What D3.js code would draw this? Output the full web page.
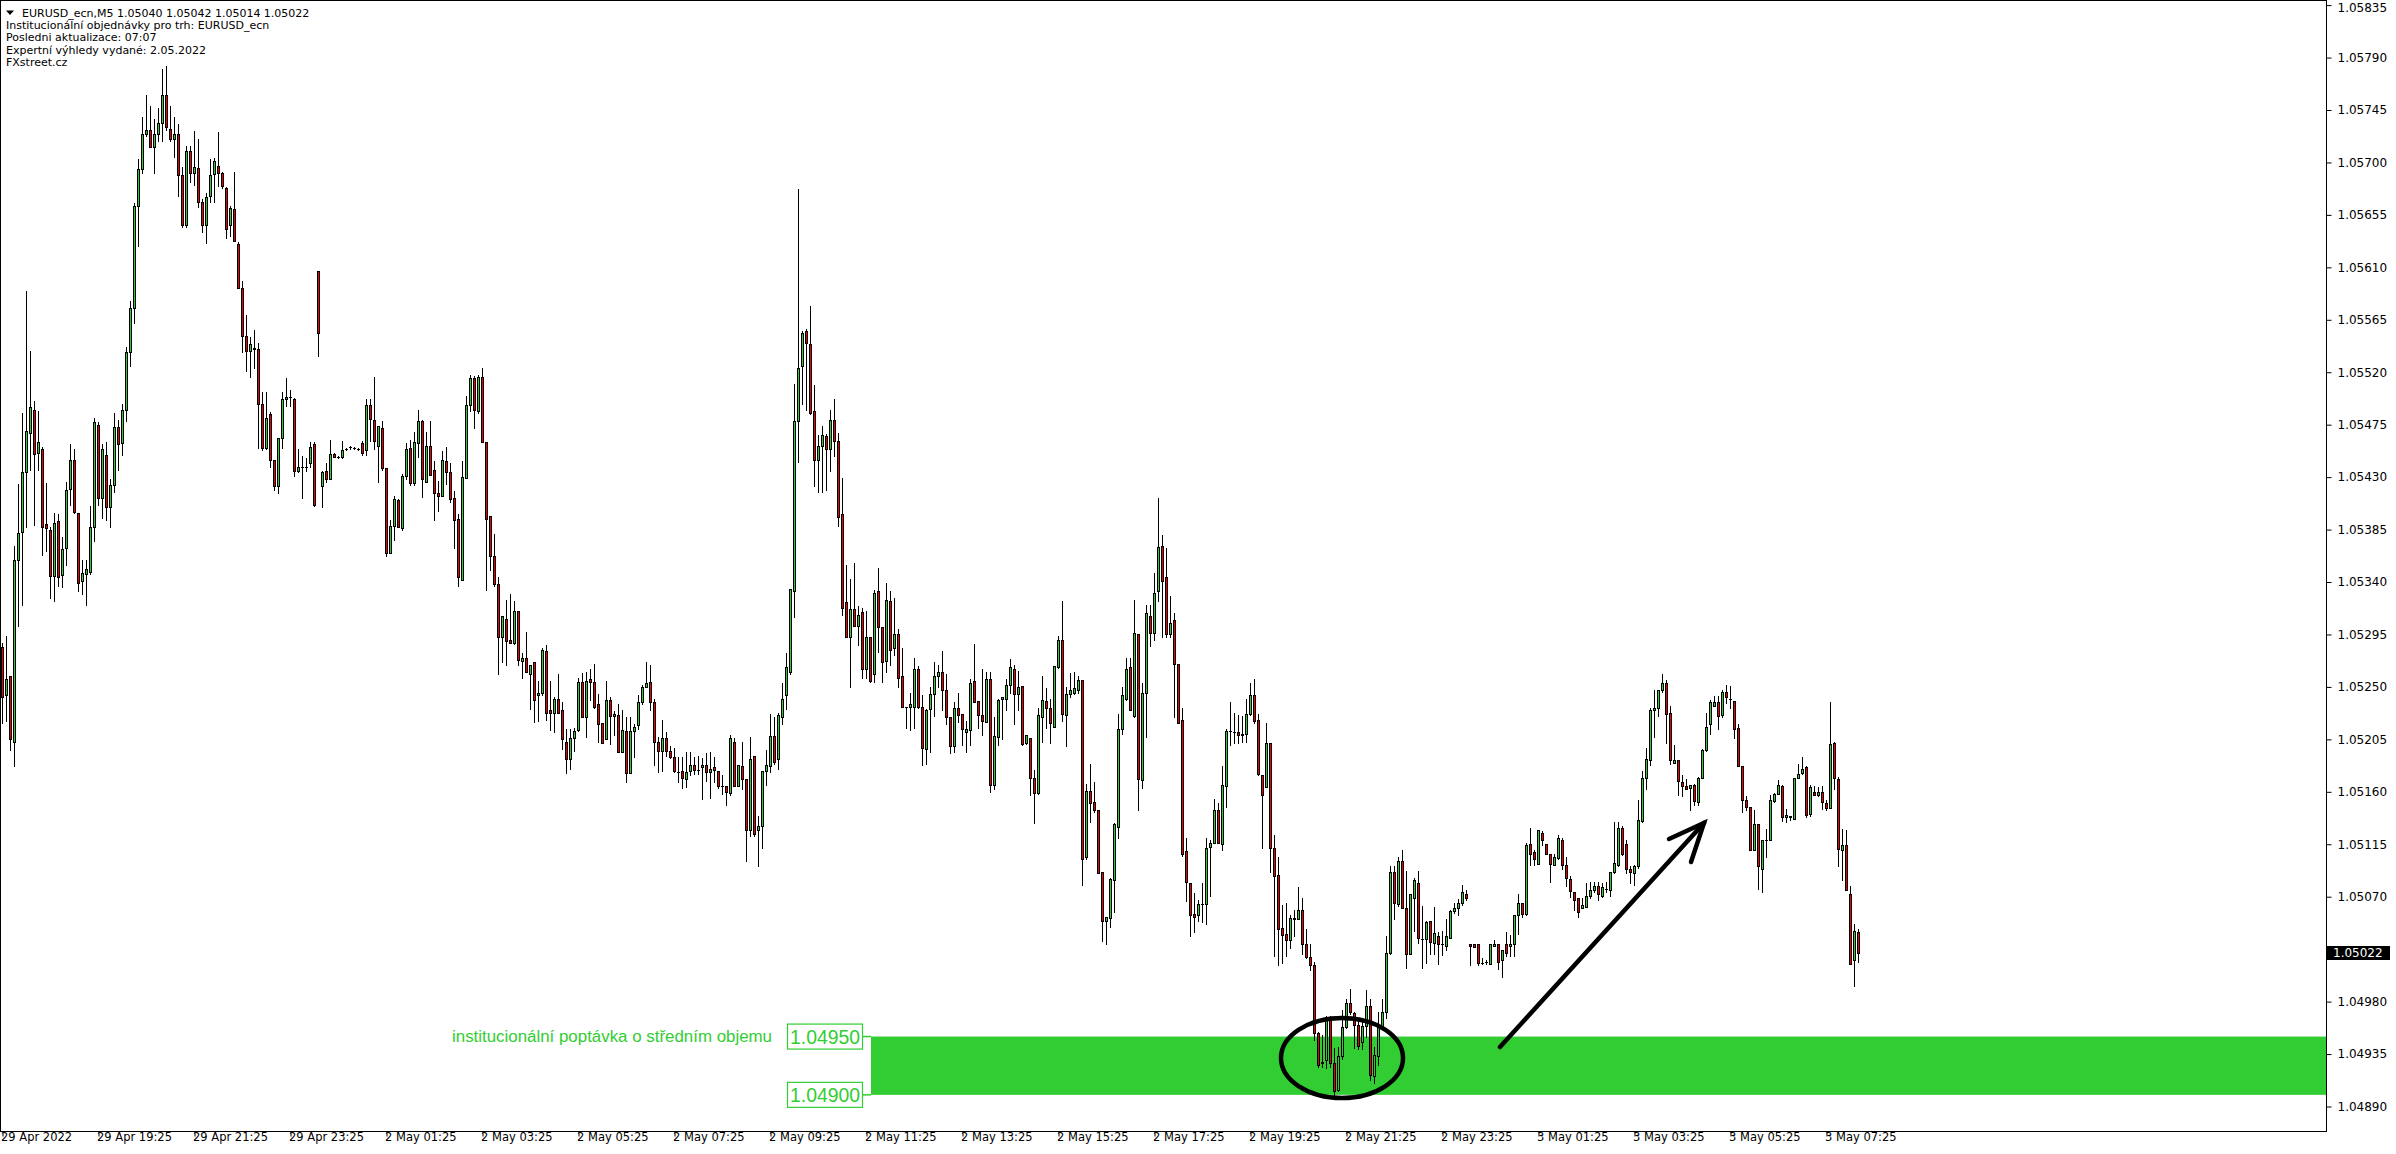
<!DOCTYPE html>
<html><head><meta charset="utf-8">
<script src="https://cdn.jsdelivr.net/npm/d3@7"></script>
<style>
html,body{margin:0;padding:0;background:#fff;}
svg{display:block;}
</style></head>
<body>
<svg id="chart" width="2396" height="1154"></svg>
<script>
// ---------- DATA (EURUSD_ecn M5) ----------
const opens = [
1.05284,1.05243,1.05259,1.05203,1.05359,1.05383,1.05434,1.05468,1.05488,1.05451,
1.05454,1.05390,1.05385,1.05345,1.05392,1.05346,1.05369,1.05420,1.05445,1.05399,
1.05341,1.05347,1.05349,1.05387,1.05475,1.05412,1.05449,1.05404,1.05423,1.05473,
1.05459,1.05488,1.05537,1.05575,1.05663,1.05694,1.05724,1.05728,1.05713,1.05724,
1.05734,1.05758,1.05729,1.05720,1.05724,1.05689,1.05646,1.05710,1.05691,1.05695,
1.05666,1.05646,1.05671,1.05690,1.05697,1.05691,1.05678,1.05646,1.05660,1.05630,
1.05592,1.05551,1.05538,1.05541,1.05540,1.05493,1.05455,1.05484,1.05445,1.05422,
1.05464,1.05497,1.05499,1.05497,1.05435,1.05439,1.05439,1.05442,1.05458,1.05607,
1.05422,1.05435,1.05428,1.05450,1.05447,1.05447,1.05454,1.05456,1.05455,1.05454,
1.05459,1.05453,1.05492,1.05479,1.05457,1.05472,1.05438,1.05365,1.05388,1.05410,
1.05386,1.05431,1.05455,1.05425,1.05459,1.05478,1.05426,1.05457,1.05436,1.05416,
1.05414,1.05444,1.05434,1.05412,1.05394,1.05342,1.05429,1.05492,1.05515,1.05487,
1.05516,1.05460,1.05397,1.05362,1.05338,1.05293,1.05308,1.05290,1.05288,1.05315,
1.05272,1.05275,1.05261,1.05271,1.05243,1.05245,1.05281,1.05230,1.05228,1.05240,
1.05230,1.05203,1.05188,1.05206,1.05213,1.05254,1.05224,1.05257,1.05254,1.05235,
1.05219,1.05205,1.05239,1.05225,1.05226,1.05194,1.05212,1.05176,1.05212,1.05217,
1.05237,1.05250,1.05254,1.05237,1.05203,1.05195,1.05206,1.05195,1.05190,1.05177,
1.05178,1.05171,1.05178,1.05183,1.05179,1.05181,1.05183,1.05177,1.05181,1.05178,
1.05165,1.05165,1.05159,1.05203,1.05165,1.05182,1.05171,1.05127,1.05191,1.05127,
1.05131,1.05178,1.05182,1.05208,1.05188,1.05224,1.05243,1.05263,1.05332,1.05478,
1.05525,1.05555,1.05544,1.05487,1.05445,1.05457,1.05465,1.05454,1.05479,1.05461,
1.05398,1.05323,1.05293,1.05317,1.05302,1.05314,1.05265,1.05293,1.05261,1.05332,
1.05301,1.05272,1.05324,1.05283,1.05295,1.05259,1.05233,1.05233,1.05233,1.05265,
1.05233,1.05197,1.05231,1.05244,1.05259,1.05263,1.05247,1.05224,1.05199,1.05232,
1.05227,1.05211,1.05213,1.05255,1.05238,1.05226,1.05220,1.05257,1.05166,1.05207,
1.05240,1.05240,1.05252,1.05265,1.05244,1.05251,1.05202,1.05206,1.05172,1.05159,
1.05224,1.05238,1.05232,1.05216,1.05267,1.05290,1.05226,1.05244,1.05245,1.05247,
1.05256,1.05104,1.05161,1.05151,1.05144,1.05091,1.05049,1.05052,1.05084,1.05130,
1.05214,1.05240,1.05267,1.05225,1.05295,1.05170,1.05245,1.05311,1.05296,1.05332,
1.05371,1.05344,1.05295,1.05307,1.05270,1.05222,1.05109,1.05082,1.05055,1.05054,
1.05064,1.05064,1.05113,1.05116,1.05144,1.05115,1.05165,1.05212,1.05211,1.05211,
1.05209,1.05210,1.05227,1.05243,1.05222,1.05174,1.05164,1.05202,1.05112,1.05089,
1.05043,1.05038,1.05033,1.05052,1.05051,1.05059,1.05029,1.05018,1.05011,1.04953,
1.04927,1.04930,1.04967,1.04927,1.04904,1.04933,1.04958,1.04979,1.04970,1.04960,
1.04945,1.04959,1.04976,1.04916,1.04933,1.04959,1.04971,1.05022,1.05091,1.05064,
1.05101,1.05060,1.05021,1.05069,1.05082,1.05034,1.05034,1.05049,1.05030,1.05036,
1.05029,1.05028,1.05035,1.05058,1.05060,1.05065,1.05072,1.05029,1.05029,1.05029,
1.05013,1.05014,1.05012,1.05028,1.05029,1.05016,1.05029,1.05028,1.05029,1.05054,
1.05065,1.05055,1.05115,1.05108,1.05098,1.05125,1.05115,1.05107,1.05097,1.05103,
1.05119,1.05097,1.05085,1.05074,1.05069,1.05060,1.05061,1.05071,1.05076,1.05079,
1.05071,1.05077,1.05076,1.05091,1.05097,1.05129,1.05115,1.05094,1.05090,1.05096,
1.05135,1.05172,1.05187,1.05230,1.05232,1.05247,1.05253,1.05228,1.05185,1.05187,
1.05168,1.05165,1.05163,1.05166,1.05151,1.05172,1.05196,1.05218,1.05234,1.05237,
1.05226,1.05246,1.05240,1.05238,1.05215,1.05182,1.05153,1.05147,1.05110,1.05132,
1.05094,1.05119,1.05119,1.05152,1.05158,1.05165,1.05138,1.05138,1.05137,1.05172,
1.05176,1.05181,1.05141,1.05160,1.05157,1.05160,1.05150,1.05146,1.05202,1.05171,
1.05110,1.05114,1.05072,1.05016,1.05040];
const highs = [
1.05288,1.05294,1.05259,1.05371,1.05424,1.05485,1.05590,1.05538,1.05495,1.05487,
1.05456,1.05425,1.05387,1.05399,1.05398,1.05379,1.05426,1.05458,1.05454,1.05399,
1.05359,1.05359,1.05405,1.05481,1.05477,1.05458,1.05460,1.05428,1.05485,1.05479,
1.05493,1.05542,1.05581,1.05665,1.05703,1.05739,1.05758,1.05748,1.05737,1.05747,
1.05780,1.05783,1.05748,1.05739,1.05733,1.05696,1.05714,1.05714,1.05727,1.05720,
1.05669,1.05674,1.05703,1.05704,1.05726,1.05692,1.05679,1.05663,1.05692,1.05632,
1.05598,1.05569,1.05550,1.05556,1.05545,1.05503,1.05503,1.05486,1.05445,1.05464,
1.05503,1.05515,1.05505,1.05498,1.05454,1.05448,1.05446,1.05460,1.05460,1.05607,
1.05435,1.05442,1.05462,1.05451,1.05448,1.05461,1.05455,1.05457,1.05456,1.05455,
1.05461,1.05497,1.05497,1.05516,1.05474,1.05478,1.05438,1.05393,1.05414,1.05411,
1.05433,1.05459,1.05462,1.05469,1.05488,1.05479,1.05469,1.05478,1.05444,1.05427,
1.05452,1.05456,1.05442,1.05418,1.05398,1.05444,1.05500,1.05518,1.05517,1.05518,
1.05524,1.05460,1.05397,1.05381,1.05344,1.05311,1.05325,1.05330,1.05324,1.05315,
1.05279,1.05297,1.05269,1.05271,1.05255,1.05283,1.05286,1.05255,1.05241,1.05261,
1.05237,1.05214,1.05214,1.05215,1.05258,1.05262,1.05263,1.05265,1.05270,1.05244,
1.05219,1.05255,1.05241,1.05229,1.05235,1.05230,1.05224,1.05224,1.05218,1.05243,
1.05252,1.05271,1.05269,1.05240,1.05207,1.05222,1.05211,1.05199,1.05198,1.05190,
1.05190,1.05194,1.05194,1.05190,1.05191,1.05189,1.05193,1.05194,1.05190,1.05178,
1.05174,1.05165,1.05209,1.05206,1.05183,1.05203,1.05171,1.05207,1.05191,1.05139,
1.05178,1.05196,1.05227,1.05224,1.05228,1.05253,1.05279,1.05334,1.05510,1.05677,
1.05555,1.05557,1.05577,1.05509,1.05466,1.05474,1.05467,1.05488,1.05497,1.05468,
1.05429,1.05355,1.05343,1.05356,1.05319,1.05318,1.05315,1.05293,1.05333,1.05352,
1.05301,1.05339,1.05332,1.05326,1.05300,1.05283,1.05233,1.05245,1.05275,1.05268,
1.05243,1.05231,1.05250,1.05271,1.05269,1.05281,1.05261,1.05224,1.05237,1.05245,
1.05227,1.05221,1.05257,1.05287,1.05238,1.05265,1.05263,1.05263,1.05224,1.05240,
1.05241,1.05257,1.05274,1.05269,1.05264,1.05251,1.05209,1.05206,1.05179,1.05232,
1.05259,1.05249,1.05240,1.05268,1.05294,1.05324,1.05250,1.05262,1.05263,1.05259,
1.05256,1.05167,1.05184,1.05168,1.05144,1.05091,1.05053,1.05086,1.05133,1.05227,
1.05250,1.05275,1.05275,1.05325,1.05295,1.05253,1.05320,1.05320,1.05348,1.05412,
1.05380,1.05369,1.05328,1.05313,1.05270,1.05232,1.05120,1.05082,1.05073,1.05067,
1.05082,1.05120,1.05119,1.05154,1.05150,1.05182,1.05214,1.05237,1.05228,1.05226,
1.05225,1.05240,1.05253,1.05257,1.05227,1.05174,1.05219,1.05202,1.05123,1.05104,
1.05063,1.05065,1.05054,1.05059,1.05078,1.05069,1.05042,1.05029,1.05014,1.04954,
1.04951,1.04968,1.04968,1.04940,1.04941,1.04973,1.04982,1.04991,1.04971,1.04964,
1.04964,1.04990,1.04982,1.04941,1.04971,1.04982,1.05036,1.05096,1.05096,1.05104,
1.05110,1.05092,1.05072,1.05086,1.05092,1.05062,1.05049,1.05049,1.05061,1.05040,
1.05041,1.05051,1.05059,1.05065,1.05068,1.05080,1.05076,1.05029,1.05029,1.05029,
1.05017,1.05016,1.05029,1.05033,1.05029,1.05024,1.05040,1.05037,1.05054,1.05072,
1.05065,1.05116,1.05129,1.05110,1.05127,1.05126,1.05115,1.05107,1.05107,1.05123,
1.05120,1.05104,1.05088,1.05074,1.05069,1.05069,1.05082,1.05083,1.05083,1.05083,
1.05082,1.05083,1.05091,1.05134,1.05134,1.05131,1.05119,1.05096,1.05097,1.05153,
1.05178,1.05198,1.05232,1.05247,1.05247,1.05261,1.05256,1.05234,1.05200,1.05187,
1.05174,1.05171,1.05166,1.05167,1.05173,1.05197,1.05228,1.05239,1.05242,1.05242,
1.05247,1.05252,1.05251,1.05238,1.05218,1.05182,1.05156,1.05147,1.05144,1.05132,
1.05119,1.05128,1.05157,1.05159,1.05170,1.05166,1.05145,1.05139,1.05172,1.05184,
1.05190,1.05182,1.05166,1.05165,1.05164,1.05165,1.05153,1.05237,1.05203,1.05173,
1.05128,1.05127,1.05079,1.05047,1.05042];
const lows = [
1.05219,1.05221,1.05196,1.05182,1.05302,1.05320,1.05387,1.05436,1.05389,1.05436,
1.05363,1.05367,1.05326,1.05324,1.05337,1.05336,1.05355,1.05406,1.05399,1.05332,
1.05330,1.05320,1.05347,1.05375,1.05406,1.05395,1.05393,1.05387,1.05417,1.05436,
1.05449,1.05478,1.05525,1.05562,1.05628,1.05691,1.05723,1.05713,1.05691,1.05718,
1.05718,1.05728,1.05718,1.05705,1.05671,1.05645,1.05645,1.05683,1.05681,1.05662,
1.05640,1.05631,1.05666,1.05666,1.05680,1.05678,1.05635,1.05637,1.05633,1.05592,
1.05537,1.05521,1.05516,1.05524,1.05455,1.05453,1.05454,1.05439,1.05419,1.05416,
1.05455,1.05491,1.05491,1.05431,1.05434,1.05412,1.05435,1.05439,1.05405,1.05534,
1.05404,1.05426,1.05428,1.05447,1.05446,1.05446,1.05453,1.05454,1.05454,1.05453,
1.05449,1.05449,1.05461,1.05454,1.05426,1.05436,1.05362,1.05365,1.05376,1.05387,
1.05385,1.05428,1.05423,1.05423,1.05447,1.05413,1.05426,1.05432,1.05393,1.05401,
1.05414,1.05424,1.05409,1.05369,1.05337,1.05342,1.05429,1.05487,1.05472,1.05485,
1.05460,1.05333,1.05350,1.05337,1.05261,1.05271,1.05269,1.05288,1.05287,1.05269,
1.05258,1.05263,1.05231,1.05220,1.05221,1.05243,1.05222,1.05213,1.05211,1.05228,
1.05197,1.05176,1.05180,1.05195,1.05212,1.05224,1.05207,1.05239,1.05232,1.05203,
1.05202,1.05205,1.05201,1.05209,1.05194,1.05194,1.05168,1.05176,1.05190,1.05214,
1.05235,1.05250,1.05230,1.05183,1.05177,1.05178,1.05191,1.05189,1.05177,1.05168,
1.05163,1.05164,1.05174,1.05175,1.05175,1.05154,1.05169,1.05155,1.05168,1.05163,
1.05158,1.05149,1.05157,1.05165,1.05165,1.05162,1.05101,1.05122,1.05122,1.05096,
1.05112,1.05166,1.05177,1.05184,1.05180,1.05218,1.05231,1.05261,1.05310,1.05443,
1.05493,1.05488,1.05484,1.05422,1.05417,1.05417,1.05419,1.05435,1.05448,1.05388,
1.05312,1.05293,1.05250,1.05302,1.05286,1.05258,1.05258,1.05254,1.05254,1.05280,
1.05254,1.05263,1.05269,1.05277,1.05250,1.05233,1.05215,1.05213,1.05215,1.05232,
1.05183,1.05184,1.05194,1.05225,1.05250,1.05230,1.05218,1.05193,1.05194,1.05220,
1.05200,1.05194,1.05200,1.05237,1.05215,1.05209,1.05220,1.05160,1.05162,1.05200,
1.05205,1.05230,1.05245,1.05218,1.05230,1.05200,1.05201,1.05157,1.05133,1.05158,
1.05203,1.05215,1.05202,1.05216,1.05266,1.05221,1.05199,1.05241,1.05244,1.05245,
1.05080,1.05102,1.05134,1.05143,1.05090,1.05032,1.05029,1.05044,1.05057,1.05120,
1.05210,1.05239,1.05230,1.05224,1.05144,1.05163,1.05207,1.05285,1.05290,1.05324,
1.05293,1.05293,1.05293,1.05224,1.05219,1.05105,1.05066,1.05036,1.05040,1.05049,
1.05048,1.05047,1.05071,1.05116,1.05116,1.05110,1.05147,1.05200,1.05202,1.05202,
1.05203,1.05203,1.05226,1.05219,1.05174,1.05112,1.05164,1.05091,1.05019,1.05011,
1.05013,1.05019,1.05026,1.05036,1.05051,1.05021,1.05017,1.05007,1.04947,1.04924,
1.04924,1.04923,1.04924,1.04899,1.04903,1.04931,1.04957,1.04969,1.04940,1.04939,
1.04939,1.04950,1.04913,1.04910,1.04926,1.04957,1.04966,1.05021,1.05051,1.05062,
1.05060,1.05009,1.05021,1.05041,1.05030,1.05009,1.05013,1.05021,1.05021,1.05012,
1.05020,1.05024,1.05035,1.05056,1.05054,1.05063,1.05067,1.05011,1.05027,1.05011,
1.05012,1.05012,1.05012,1.05028,1.05008,1.05001,1.05019,1.05019,1.05019,1.05038,
1.05053,1.05054,1.05097,1.05097,1.05098,1.05114,1.05107,1.05083,1.05097,1.05102,
1.05094,1.05079,1.05070,1.05059,1.05053,1.05060,1.05061,1.05069,1.05074,1.05067,
1.05070,1.05074,1.05071,1.05090,1.05096,1.05106,1.05090,1.05082,1.05080,1.05095,
1.05134,1.05162,1.05183,1.05207,1.05225,1.05246,1.05202,1.05184,1.05185,1.05157,
1.05156,1.05162,1.05144,1.05149,1.05149,1.05172,1.05195,1.05210,1.05234,1.05214,
1.05224,1.05236,1.05232,1.05206,1.05182,1.05143,1.05144,1.05110,1.05110,1.05077,
1.05074,1.05104,1.05119,1.05151,1.05158,1.05135,1.05134,1.05136,1.05137,1.05172,
1.05175,1.05138,1.05139,1.05157,1.05156,1.05145,1.05144,1.05146,1.05162,1.05096,
1.05084,1.05076,1.05012,1.04993,1.05014];
const closes = [
1.05241,1.05257,1.05205,1.05359,1.05382,1.05434,1.05470,1.05490,1.05450,1.05460,
1.05387,1.05386,1.05345,1.05391,1.05344,1.05368,1.05419,1.05445,1.05400,1.05339,
1.05348,1.05351,1.05387,1.05477,1.05412,1.05454,1.05404,1.05423,1.05473,1.05458,
1.05488,1.05537,1.05575,1.05663,1.05694,1.05724,1.05728,1.05713,1.05724,1.05734,
1.05758,1.05730,1.05720,1.05724,1.05689,1.05646,1.05710,1.05691,1.05696,1.05666,
1.05646,1.05670,1.05689,1.05701,1.05691,1.05680,1.05643,1.05661,1.05633,1.05592,
1.05551,1.05538,1.05544,1.05540,1.05493,1.05455,1.05481,1.05445,1.05422,1.05464,
1.05497,1.05499,1.05499,1.05435,1.05439,1.05439,1.05439,1.05456,1.05406,1.05554,
1.05434,1.05428,1.05450,1.05447,1.05447,1.05453,1.05454,1.05456,1.05455,1.05454,
1.05451,1.05492,1.05480,1.05461,1.05474,1.05438,1.05365,1.05388,1.05411,1.05387,
1.05431,1.05454,1.05425,1.05460,1.05478,1.05428,1.05457,1.05432,1.05416,1.05414,
1.05445,1.05434,1.05411,1.05393,1.05344,1.05430,1.05492,1.05515,1.05488,1.05516,
1.05460,1.05394,1.05362,1.05338,1.05293,1.05311,1.05289,1.05288,1.05315,1.05273,
1.05275,1.05263,1.05269,1.05239,1.05245,1.05282,1.05228,1.05228,1.05240,1.05228,
1.05205,1.05188,1.05206,1.05212,1.05254,1.05224,1.05255,1.05254,1.05233,1.05218,
1.05202,1.05239,1.05225,1.05227,1.05194,1.05213,1.05176,1.05212,1.05216,1.05237,
1.05250,1.05253,1.05237,1.05203,1.05195,1.05206,1.05195,1.05190,1.05178,1.05177,
1.05172,1.05177,1.05183,1.05179,1.05179,1.05183,1.05177,1.05180,1.05179,1.05165,
1.05165,1.05160,1.05206,1.05165,1.05183,1.05171,1.05127,1.05188,1.05124,1.05131,
1.05178,1.05183,1.05208,1.05186,1.05226,1.05240,1.05267,1.05334,1.05478,1.05524,
1.05554,1.05545,1.05485,1.05445,1.05457,1.05466,1.05454,1.05479,1.05461,1.05396,
1.05318,1.05293,1.05317,1.05302,1.05312,1.05265,1.05293,1.05255,1.05331,1.05301,
1.05271,1.05325,1.05282,1.05295,1.05258,1.05233,1.05233,1.05235,1.05265,1.05233,
1.05198,1.05230,1.05244,1.05259,1.05263,1.05247,1.05224,1.05199,1.05232,1.05226,
1.05214,1.05214,1.05253,1.05237,1.05226,1.05221,1.05257,1.05166,1.05208,1.05239,
1.05241,1.05252,1.05267,1.05244,1.05250,1.05201,1.05209,1.05172,1.05159,1.05226,
1.05239,1.05232,1.05219,1.05268,1.05290,1.05227,1.05244,1.05247,1.05249,1.05256,
1.05102,1.05161,1.05150,1.05144,1.05090,1.05049,1.05053,1.05085,1.05132,1.05214,
1.05243,1.05265,1.05230,1.05296,1.05171,1.05245,1.05313,1.05296,1.05331,1.05370,
1.05341,1.05295,1.05305,1.05270,1.05219,1.05107,1.05083,1.05054,1.05053,1.05064,
1.05064,1.05112,1.05116,1.05144,1.05116,1.05166,1.05212,1.05212,1.05211,1.05209,
1.05210,1.05227,1.05243,1.05221,1.05175,1.05157,1.05202,1.05112,1.05088,1.05042,
1.05037,1.05033,1.05052,1.05051,1.05059,1.05029,1.05018,1.05011,1.04953,1.04926,
1.04928,1.04967,1.04927,1.04903,1.04933,1.04958,1.04979,1.04971,1.04960,1.04942,
1.04959,1.04976,1.04917,1.04934,1.04959,1.04971,1.05022,1.05091,1.05065,1.05101,
1.05060,1.05021,1.05072,1.05084,1.05035,1.05034,1.05048,1.05031,1.05039,1.05029,
1.05029,1.05036,1.05058,1.05060,1.05065,1.05074,1.05069,1.05028,1.05027,1.05013,
1.05013,1.05014,1.05029,1.05029,1.05014,1.05024,1.05022,1.05029,1.05054,1.05065,
1.05055,1.05114,1.05107,1.05102,1.05127,1.05119,1.05107,1.05098,1.05104,1.05120,
1.05097,1.05086,1.05075,1.05067,1.05057,1.05063,1.05071,1.05076,1.05079,1.05072,
1.05078,1.05077,1.05091,1.05099,1.05129,1.05107,1.05094,1.05091,1.05096,1.05136,
1.05172,1.05188,1.05230,1.05232,1.05247,1.05253,1.05227,1.05187,1.05187,1.05169,
1.05165,1.05162,1.05166,1.05152,1.05172,1.05196,1.05216,1.05237,1.05237,1.05225,
1.05246,1.05241,1.05240,1.05214,1.05182,1.05153,1.05147,1.05110,1.05132,1.05096,
1.05119,1.05119,1.05153,1.05158,1.05166,1.05138,1.05140,1.05139,1.05172,1.05175,
1.05180,1.05140,1.05164,1.05157,1.05160,1.05151,1.05146,1.05201,1.05172,1.05111,
1.05114,1.05076,1.05012,1.05041,1.05022];

const timeLabels = ["29 Apr 2022","29 Apr 19:25","29 Apr 21:25","29 Apr 23:25","2 May 01:25","2 May 03:25",
  "2 May 05:25","2 May 07:25","2 May 09:25","2 May 11:25","2 May 13:25","2 May 15:25","2 May 17:25",
  "2 May 19:25","2 May 21:25","2 May 23:25","3 May 01:25","3 May 03:25","3 May 05:25","3 May 07:25"];
const barsPerLabel = 24; // one label every 2 hours of M5 bars
const priceTicks = [1.05835,1.05790,1.05745,1.05700,1.05655,1.05610,1.05565,1.05520,1.05475,1.05430,
  1.05385,1.05340,1.05295,1.05250,1.05205,1.05160,1.05115,1.05070,1.05025,1.04980,1.04935,1.04890];
const lastPrice = 1.05022;
const headerLines = ["EURUSD_ecn,M5  1.05040 1.05042 1.05014 1.05022",
  "Institucionální objednávky pro trh: EURUSD_ecn",
  "Posledni aktualizace: 07:07",
  "Expertní výhledy vydané: 2.05.2022",
  "FXstreet.cz"];
const zoneTop = 1.04950, zoneBottom = 1.04900;
const zoneText = "institucionální poptávka o středním objemu";

// ---------- LAYOUT ----------
const W = 2396, H = 1154;
const plotR = 2326, plotB = 1131;
const bullFill = "#32CD32", bearFill = "#E60000", zoneColor = "#32CD32";
const n = opens.length;

const svg = d3.select("#chart");
svg.append("rect").attr("width", W).attr("height", H).attr("fill", "#fff");

const x = d3.scaleLinear().domain([0, n - 1]).range([2, 2 + 4 * (n - 1)]);
const y = d3.scaleLinear().domain([1.04890, 1.05835]).range([1106.5, 5.1]);

const plot = svg.append("g");

// demand zone
const zTop = y(zoneTop), zBot = y(zoneBottom);
plot.append("rect").attr("x", 871).attr("y", zTop).attr("width", plotR - 871).attr("height", zBot - zTop)
  .attr("fill", zoneColor);

// candles
const candles = plot.append("g").attr("shape-rendering", "crispEdges");
const bars = d3.range(n).map(i => ({i, o: opens[i], h: highs[i], l: lows[i], c: closes[i]}));
const cg = candles.selectAll("g").data(bars).join("g");
cg.append("rect")
  .attr("x", d => Math.round(x(d.i)))
  .attr("y", d => Math.round(y(d.h)))
  .attr("width", 1)
  .attr("height", d => Math.max(1, Math.round(y(d.l)) - Math.round(y(d.h)) + 1))
  .attr("fill", "#000");
cg.append("rect")
  .attr("x", d => Math.round(x(d.i)) - 1)
  .attr("y", d => Math.round(y(Math.max(d.o, d.c))))
  .attr("width", 3)
  .attr("height", d => Math.max(1, Math.round(y(Math.min(d.o, d.c))) - Math.round(y(Math.max(d.o, d.c))) + 1))
  .attr("fill", "#000");
cg.filter(d => Math.round(y(Math.min(d.o, d.c))) - Math.round(y(Math.max(d.o, d.c))) >= 2)
  .append("rect")
  .attr("x", d => Math.round(x(d.i)))
  .attr("y", d => Math.round(y(Math.max(d.o, d.c))) + 1)
  .attr("width", 1)
  .attr("height", d => Math.round(y(Math.min(d.o, d.c))) - Math.round(y(Math.max(d.o, d.c))) - 1)
  .attr("fill", d => d.c >= d.o ? bullFill : bearFill);

// zone labels
const lblFont = "'Liberation Sans', Arial, sans-serif";
[[zoneTop, zTop], [zoneBottom, zBot]].forEach(([v, yy]) => {
  svg.append("line").attr("x1", 862).attr("x2", 871).attr("y1", yy).attr("y2", yy)
    .attr("stroke", zoneColor).attr("stroke-width", 1.5);
  svg.append("rect").attr("x", 787.5).attr("y", yy - 12.5).attr("width", 75).attr("height", 25)
    .attr("fill", "#fff").attr("stroke", zoneColor).attr("stroke-width", 1.2);
  svg.append("text").attr("x", 825).attr("y", yy + 7).attr("text-anchor", "middle")
    .attr("font-family", lblFont).attr("font-size", 20).attr("fill", zoneColor)
    .attr("textLength", 70).attr("lengthAdjust", "spacingAndGlyphs")
    .text(d3.format(".5f")(v));
});
svg.append("text").attr("x", 772).attr("y", zTop + 5.5).attr("text-anchor", "end")
  .attr("font-family", lblFont).attr("font-size", 16).attr("fill", zoneColor)
  .attr("textLength", 320).attr("lengthAdjust", "spacingAndGlyphs")
  .text(zoneText);

// ellipse + arrow (hand annotations)
svg.append("ellipse").attr("cx", 1342).attr("cy", 1058).attr("rx", 61).attr("ry", 40)
  .attr("fill", "none").attr("stroke", "#000").attr("stroke-width", 4.5);
const arrow = svg.append("g").attr("stroke", "#000").attr("stroke-width", 4.5)
  .attr("stroke-linecap", "round").attr("fill", "none");
arrow.append("line").attr("x1", 1500).attr("y1", 1047).attr("x2", 1704).attr("y2", 823);
arrow.append("polyline").attr("points", "1669,839 1704,823 1691,862");

// frame
svg.append("rect").attr("x", 0.5).attr("y", 0.5).attr("width", plotR).attr("height", plotB)
  .attr("fill", "none").attr("stroke", "#000").attr("stroke-width", 1);

// axes
const axFont = "'DejaVu Sans', sans-serif";
const yAxis = d3.axisRight(y).tickValues(priceTicks).tickSize(5).tickPadding(6)
  .tickFormat(d3.format(".5f"));
const gy = svg.append("g").attr("transform", `translate(${plotR + 0.5},0)`).call(yAxis);
gy.select(".domain").remove();
gy.selectAll("text").attr("font-family", axFont).attr("font-size", 12).attr("fill", "#000");
gy.selectAll(".tick").filter(d => y(d) < 10).select("text").attr("dy", "0.32em").attr("y", 3);
gy.selectAll(".tick").filter(d => Math.abs(y(d) - y(lastPrice)) < 10).select("text").remove();

const xAxis = d3.axisBottom(x).tickValues(timeLabels.map((_, i) => i * barsPerLabel))
  .tickSize(5).tickFormat((d, i) => timeLabels[i]);
const gx = svg.append("g").attr("transform", `translate(0.5,${plotB + 0.5})`).call(xAxis);
gx.select(".domain").remove();
gx.selectAll("text").attr("font-family", axFont).attr("font-size", 11.5).attr("fill", "#000")
  .attr("text-anchor", "start").attr("dx", -2).attr("dy", "0.45em").attr("y", 4);

// last price box
const ly = y(lastPrice);
svg.append("rect").attr("x", plotR + 1).attr("y", Math.round(ly) - 7).attr("width", 63).attr("height", 14).attr("fill", "#000");
svg.append("text").attr("x", plotR + 7).attr("y", ly + 4.5).attr("font-family", axFont)
  .attr("font-size", 12).attr("fill", "#fff").text(d3.format(".5f")(lastPrice));

// header
svg.append("path").attr("d", "M6,10.5 L14,10.5 L10,15 Z").attr("fill", "#000");
headerLines.forEach((t, i) => {
  svg.append("text").attr("x", i === 0 ? 22 : 6).attr("y", 16.5 + i * 12.45)
    .attr("font-family", axFont).attr("font-size", 11).attr("fill", "#000").text(t);
});
</script>
</body></html>
